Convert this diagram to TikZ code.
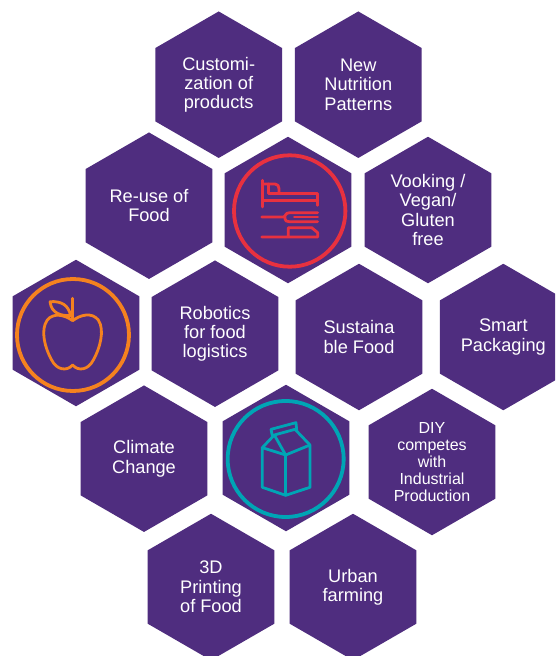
\documentclass[tikz,border=0pt]{standalone}
\usepackage{fontspec}
\setmainfont{Liberation Sans}
\usetikzlibrary{shapes.geometric}
\definecolor{hexpurple}{HTML}{4F2D7F}
\definecolor{iconred}{HTML}{E8313F}
\definecolor{iconorange}{HTML}{F5821F}
\definecolor{iconteal}{HTML}{00A5B5}
\tikzset{
  hexa/.style={regular polygon,regular polygon sides=6,shape border rotate=30,minimum size=146.5pt,
    inner sep=0pt,outer sep=0pt,fill=hexpurple,text=white,align=center,
    font=\fontsize{18.2}{19.3}\selectfont},
  hexasmall/.style={hexa,font=\fontsize{16}{17}\selectfont},
  iconline/.style={line width=3.8pt,line cap=round,line join=round},
  iconthin/.style={line width=2.8pt,line cap=round,line join=round},
}
\begin{document}
\begin{tikzpicture}[x=1pt,y=-1pt]
\clip (0,0) rectangle (555,656);
\useasboundingbox (0,0) rectangle (555,656);
\fill[white] (0,0) rectangle (555,656);
\node[hexa] (custom) at (218.7,84.7) {Customi-\\zation of\\products};
\node[hexa] (nutri) at (358.3,84.7) {New\\Nutrition\\Patterns};
\node[hexa] (reuse) at (149,205.7) {Re-use of\\Food};
\node[hexa] (fork) at (288,210) {};
\node[hexa] (vook) at (428,210) {Vooking /\\Vegan/\\Gluten\\free};
\node[hexa] (apple) at (76,333) {};
\node[hexa] (robot) at (215,333.7) {Robotics\\for food\\logistics};
\node[hexa] (sust) at (359,337) {Sustaina\\ble Food};
\node[hexa] (smart) at (503.3,337) {Smart\\Packaging};
\node[hexa] (climate) at (144,458.7) {Climate\\Change};
\node[hexa] (milk) at (286,458) {};
\node[hexasmall] (diy) at (432,462) {DIY\\competes\\with\\Industrial\\Production};
\node[hexa] (print) at (211,587) {3D\\Printing\\of Food};
\node[hexa] (urban) at (353,587) {Urban\\farming};
% fork and knife icon
\draw[iconline,iconred] (289.7,211) circle (55.7);
\begin{scope}[shift={(255,172)},x=0.3333pt,y=-0.3333pt]
\draw[iconthin,iconred] (23,25)--(23,105);
\draw[iconthin,iconred] (23,36)--(60,36) .. controls (68,36) and (72,42) .. (72,50)--(72,64);
\draw[iconthin,iconred] (40,36)--(40,64)--(188,64)--(188,100);
\draw[iconthin,iconred] (23,85)--(188,85);
\draw[iconthin,iconred] (20,135)--(85,135) .. controls (92,135) and (90,122) .. (104,122)--(188,122);
\draw[iconthin,iconred] (90,135)--(90,140) .. controls (90,146) and (95,149) .. (102,149)--(188,149);
\draw[iconthin,iconred] (118,135)--(188,135);
\draw[iconthin,iconred] (20,195)--(188,195)--(188,182)--(170,167)--(100,167)--(100,195);
\end{scope}
% apple icon
\begin{scope}[shift={(0,255)},x=0.3333pt,y=-0.3333pt]
\draw[iconline,iconorange] (219,240) circle (168);
\draw[iconthin,iconorange] (218,130)--(218,195);
\draw[iconthin,iconorange] (150,140) .. controls (185,138) and (205,150) .. (212,182) .. controls (185,182) and (155,178) .. (150,140);
\draw[iconthin,iconorange] (218,197) .. controls (240,180) and (275,170) .. (295,195)
  .. controls (315,225) and (300,280) .. (280,315)
  .. controls (265,345) and (235,350) .. (218,330)
  .. controls (200,350) and (170,345) .. (155,315)
  .. controls (135,280) and (120,225) .. (142,195)
  .. controls (160,172) and (195,180) .. (218,197);
\end{scope}
% milk carton icon
\begin{scope}[shift={(215,380)},x=0.3333pt,y=-0.3333pt]
\draw[iconline,iconteal] (212,237) circle (174);
\draw[iconthin,iconteal] (142,203)--(142,322)--(212,346)--(285,322)--(285,195)--(212,225)--(142,203);
\draw[iconthin,iconteal] (212,225)--(212,346);
\draw[iconthin,iconteal] (142,203)--(178,165)--(240,148)--(285,195);
\draw[iconthin,iconteal] (178,165)--(212,225);
\draw[iconthin,iconteal] (172,167)--(168,148)--(243,128)--(245,150);
\end{scope}
\end{tikzpicture}
\end{document}
